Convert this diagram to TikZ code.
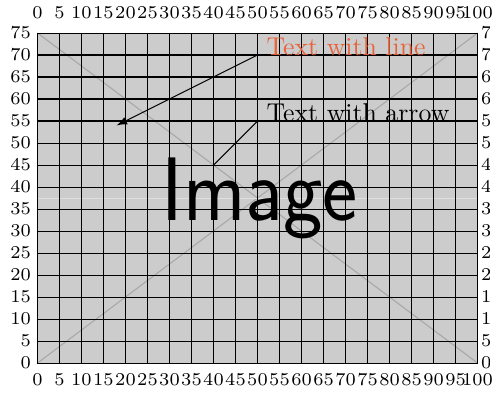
\documentclass[tikz,border=0pt]{standalone}
\usepackage{tikz}
\definecolor{annot}{RGB}{232,98,58}
\tikzset{
  ticklabel/.style={font=\scriptsize, inner sep=0pt},
  placeholder/.style={fill=black!20, draw=none},
}
\begin{document}
\begin{tikzpicture}[x=0.06cm, y=0.06cm]
        \useasboundingbox (-8.52,-6.59) rectangle (104.2,82.5);
        % the placeholder picture
        \fill[placeholder] (0,0) rectangle (100,75);
        \draw[black!35] (0,0) -- (100,75);
        \draw[black!35] (0,75) -- (100,0);
        \draw[black!12] (0,37.5) -- (100,37.5);
        \draw[black!12] (50,0) -- (50,75);
        \node[font=\fontsize{35}{40}\selectfont\sffamily, xscale=0.93] (img) at (50.5,37.5) {Image};
        
        % grid and its labels
        \draw[step=5] (0,0) grid (100,75);
        \foreach \x in {0,5,...,100} {
            \node[ticklabel, anchor=base] (top\x) at (\x,78.3) {\x};
            \node[ticklabel, anchor=base] (bot\x) at (\x,-5) {\x};
        }
        \foreach \y in {0,5,...,75} {
            \node[ticklabel, anchor=east] (left\y) at (-1.4,\y) {\y};
        }
        \begin{scope}
            \clip (100,-6.59) rectangle (102.8,82.5);
            \foreach \y in {0,5,...,75} {
                \node[ticklabel, anchor=west] (right\y) at (100.7,\y) {\y};
            }
        \end{scope}
        
        % annotations
        \coordinate (tip) at (18,54);
        \coordinate (spot) at (40,45);
        \node[anchor=base west, text=annot] (linetext) at (50,70) {Text with line};
        \node[anchor=base west] (arrowtext) at (50,55) {Text with arrow};
        
        \draw[-latex] (linetext.base west) -- (tip);
        \draw (arrowtext.base west) -- (spot);
    \end{tikzpicture}
\end{document}
